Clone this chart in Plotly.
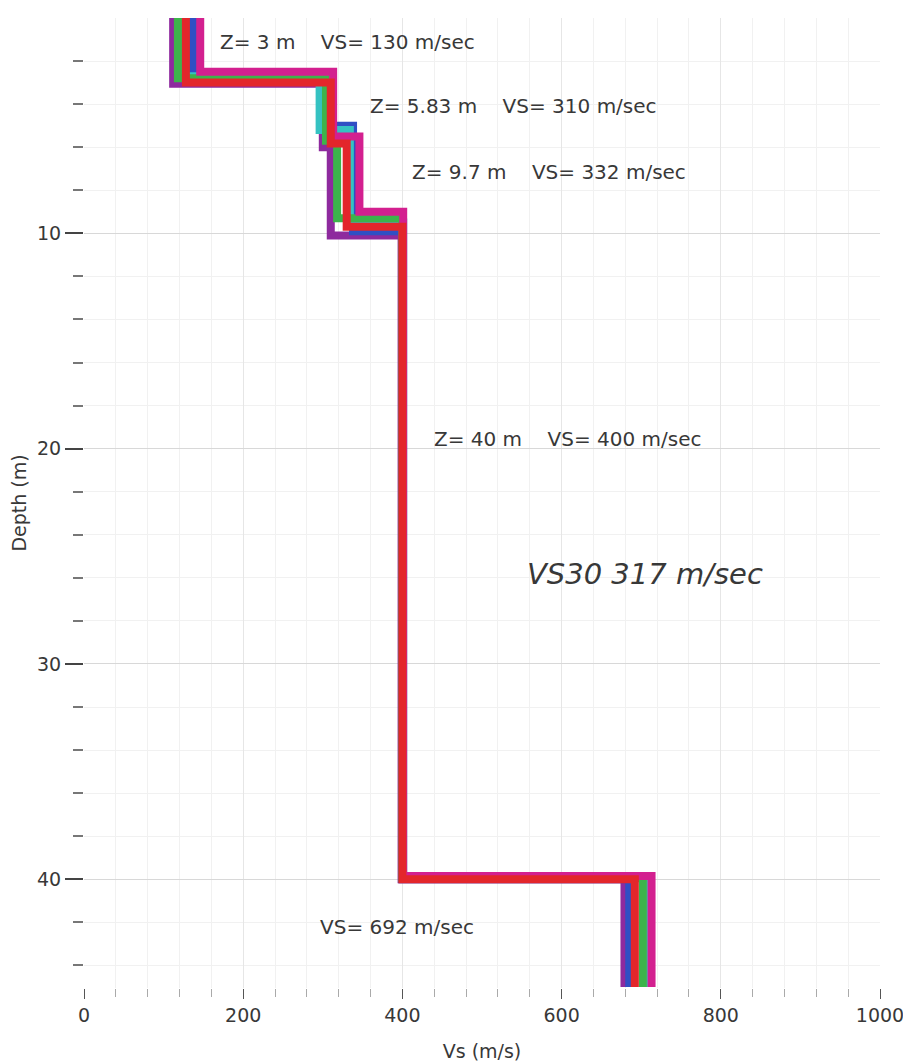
import plotly.graph_objects as go

# ---------------- data ----------------
profile_names = ["P1", "P2", "P3", "P4", "P5", "Mean"]
profile_colors = ["#8e2a9e", "#2f4fc4", "#35c2c2", "#3cb44b", "#d3208f", "#e3262b"]

# layer bottom depths (m) for each profile (last layer = half-space)
layer_depths = [
    [3.05, 6.0, 10.1, 40.0],   # purple
    [2.9, 5.0, 9.9, 40.0],     # blue
    [2.7, 5.2, 9.5, 39.9],     # cyan
    [2.8, 5.7, 9.3, 39.95],    # green
    [2.5, 5.5, 9.0, 39.85],    # magenta
    [3.0, 5.83, 9.7, 40.0],    # red (selected)
]
# shear-wave velocity (m/s) of each layer
layer_vs = [
    [112, 300, 310, 399, 679],
    [137, 306, 338, 400, 685],
    [122, 296, 334, 401, 708],
    [118, 304, 318, 400, 702],
    [146, 313, 346, 401, 713],
    [128, 310, 330, 400, 692],
]
max_depth = 45.0

label_texts = [
    "Z= 3 m&nbsp;&nbsp;&nbsp;&nbsp;VS= 130 m/sec",
    "Z= 5.83 m&nbsp;&nbsp;&nbsp;&nbsp;VS= 310 m/sec",
    "Z= 9.7 m&nbsp;&nbsp;&nbsp;&nbsp;VS= 332 m/sec",
    "Z= 40 m&nbsp;&nbsp;&nbsp;&nbsp;VS= 400 m/sec",
    "VS= 692 m/sec",
]
label_x = [168, 357, 410, 437, 294]
label_y = [1.12, 4.09, 7.16, 19.53, 42.2]
vs30_text = "VS30 317 m/sec"
vs30_x, vs30_y = 554, 25.8

x_ticks = [0, 200, 400, 600, 800, 1000]
y_ticks = [10, 20, 30, 40]
y_minor_ticks = [d for d in range(2, 46, 2) if d % 10 != 0]

# ---------------- figure ----------------
fig = go.Figure()
for name, color, depths, vs in zip(profile_names, profile_colors, layer_depths, layer_vs):
    ys = [0.0] + list(depths) + [max_depth]
    xs = list(vs) + [vs[-1]]
    fig.add_trace(go.Scatter(
        x=xs, y=ys, mode="lines", name=name,
        line=dict(color=color, width=8, shape="vh"),
        showlegend=False, hoverinfo="skip",
    ))

font_family = "DejaVu Sans, Verdana, sans-serif"
for t, x, y in zip(label_texts, label_x, label_y):
    fig.add_annotation(x=x, y=y, text=t, showarrow=False, xanchor="left", yanchor="middle",
                       font=dict(family=font_family, size=20, color="#383838"))
fig.add_annotation(x=vs30_x, y=vs30_y, text="<i>" + vs30_text + "</i>", showarrow=False,
                   xanchor="left", yanchor="middle",
                   font=dict(family=font_family, size=29, color="#383838"))

# page body has an 8px default margin -> figure sized to fit the 911x1063 window
fig.update_layout(
    width=903, height=1055,
    margin=dict(l=76, r=31, t=10, b=75, autoexpand=False),
    paper_bgcolor="white", plot_bgcolor="white",
    font=dict(family=font_family, size=19, color="#383838"),
)
fig.update_xaxes(
    range=[0, 1000], tickvals=x_ticks, ticktext=[str(v) for v in x_ticks],
    ticks="outside", ticklen=10, tickcolor="#555555", tickwidth=1,
    showgrid=True, gridcolor="#e6e6e6", gridwidth=1,
    minor=dict(dtick=40, tick0=0, ticks="outside", ticklen=8, tickcolor="#aaaaaa",
               showgrid=True, gridcolor="#f1f1f1"),
    showline=False, zeroline=False,
    title=dict(text="Vs (m/s)", font=dict(size=19), standoff=19),
    tickfont=dict(size=19),
)
fig.update_yaxes(
    range=[45.05, 0], tickvals=y_ticks, ticktext=[str(v) for v in y_ticks],
    ticks="outside", ticklen=18, tickcolor="#444444", tickwidth=1.5,
    showgrid=True, gridcolor="#d8d8d8", gridwidth=1,
    minor=dict(tickvals=y_minor_ticks, ticks="outside", ticklen=10, tickcolor="#777777",
               showgrid=True, gridcolor="#f1f1f1"),
    showline=False, zeroline=False,
    title=dict(text="Depth (m)", font=dict(size=19), standoff=8),
    tickfont=dict(size=19),
)

fig.write_html("out.html")
